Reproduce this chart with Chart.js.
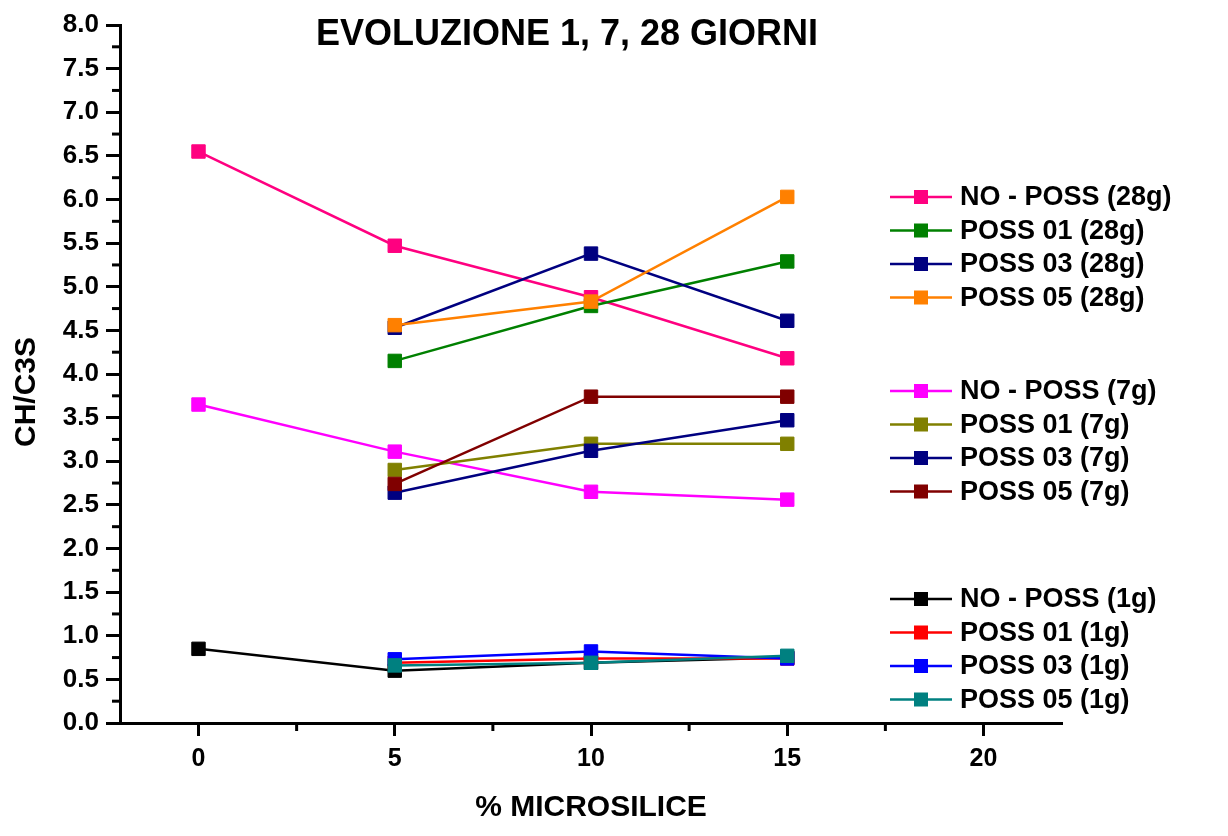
<!DOCTYPE html>
<html>
<head>
<meta charset="utf-8">
<title>Evoluzione 1, 7, 28 giorni</title>
<script src="https://cdn.jsdelivr.net/npm/chart.js@4.4.1/dist/chart.umd.min.js"></script>
<style>
  html, body { margin: 0; padding: 0; background: #fff; }
  #wrap { width: 1228px; height: 836px; }
</style>
</head>
<body>
<div id="wrap"><canvas id="evoChart" width="1228" height="836"></canvas></div>
<script>
// CH/C3S vs % microsilice, curing at 1, 7 and 28 days
const chartTitle = 'EVOLUZIONE 1, 7, 28 GIORNI';
const xTitle = '% MICROSILICE';
const yTitle = 'CH/C3S';

const xNoPoss = [0, 5, 10, 15];
const xPoss = [5, 10, 15];

const xTickValues = [0, 5, 10, 15, 20];
const xTickLabels = ['0', '5', '10', '15', '20'];
const yTickValues = [0, 0.5, 1, 1.5, 2, 2.5, 3, 3.5, 4, 4.5, 5, 5.5, 6, 6.5, 7, 7.5, 8];
const yTickLabels = ['0.0', '0.5', '1.0', '1.5', '2.0', '2.5', '3.0', '3.5', '4.0', '4.5',
                     '5.0', '5.5', '6.0', '6.5', '7.0', '7.5', '8.0'];

// 28 giorni
const noPoss28 = [6.55, 5.47, 4.88, 4.18];
const poss01_28 = [4.15, 4.78, 5.29];
const poss03_28 = [4.53, 5.38, 4.61];
const poss05_28 = [4.56, 4.83, 6.03];
// 7 giorni
const noPoss7 = [3.65, 3.11, 2.65, 2.56];
const poss01_7 = [2.90, 3.20, 3.20];
const poss03_7 = [2.64, 3.12, 3.47];
const poss05_7 = [2.74, 3.74, 3.74];
// 1 giorno
const noPoss1 = [0.85, 0.60, 0.69, 0.75];
const poss01_1 = [0.69, 0.74, 0.74];
const poss03_1 = [0.73, 0.82, 0.74];
const poss05_1 = [0.66, 0.69, 0.77];

const FONT = '"Liberation Sans", Arial, Helvetica, sans-serif';
Chart.defaults.font.family = FONT;
Chart.defaults.color = '#000';

function series(label, xs, ys, color, i) {
    return {
        label: label,
        data: xs.map((x, k) => ({ x: x, y: ys[k] })),
        borderColor: color,
        backgroundColor: color,
        pointBackgroundColor: color,
        pointBorderColor: color,
        borderWidth: 2.5,
        pointStyle: 'rect',
        pointRadius: 9.5,
        pointBorderWidth: 1,
        tension: 0,
        order: 20 - i   // later series on top, like the original plot
    };
}

const datasets = [
    series('NO - POSS (28g)', xNoPoss, noPoss28, '#FF0080', 0),
    series('POSS 01 (28g)', xPoss, poss01_28, '#008000', 1),
    series('POSS 03 (28g)', xPoss, poss03_28, '#000080', 2),
    series('POSS 05 (28g)', xPoss, poss05_28, '#FF8000', 3),
    series('NO - POSS (7g)', xNoPoss, noPoss7, '#FF00FF', 4),
    series('POSS 01 (7g)', xPoss, poss01_7, '#808000', 5),
    series('POSS 03 (7g)', xPoss, poss03_7, '#000080', 6),
    series('POSS 05 (7g)', xPoss, poss05_7, '#800000', 7),
    series('NO - POSS (1g)', xNoPoss, noPoss1, '#000000', 8),
    series('POSS 01 (1g)', xPoss, poss01_1, '#FF0000', 9),
    series('POSS 03 (1g)', xPoss, poss03_1, '#0000FF', 10),
    series('POSS 05 (1g)', xPoss, poss05_1, '#008080', 11)
];

// legend is split in three blocks (28g / 7g / 1g), drawn by hand
const legendGroups = [[0, 1, 2, 3], [4, 5, 6, 7], [8, 9, 10, 11]];
const legendTops = [197, 391, 599];

function midpoints(arr, lo, hi) {
    const out = [];
    const step = arr[1] - arr[0];
    for (let v = arr[0] - step / 2; v <= hi; v += step) {
        if (v >= lo) out.push(v);
    }
    return out;
}

const decorPlugin = {
    id: 'decor',
    afterDraw(chart) {
        const ctx = chart.ctx;
        const xs = chart.scales.x, ys = chart.scales.y;
        const area = chart.chartArea;
        ctx.save();

        // minor ticks
        ctx.strokeStyle = '#000';
        ctx.lineWidth = 3;
        midpoints(xTickValues, xs.min, xs.max).forEach(v => {
            const px = xs.getPixelForValue(v);
            ctx.beginPath();
            ctx.moveTo(px, area.bottom);
            ctx.lineTo(px, area.bottom + 8);
            ctx.stroke();
        });
        midpoints(yTickValues, ys.min, ys.max).forEach(v => {
            const py = ys.getPixelForValue(v);
            ctx.beginPath();
            ctx.moveTo(area.left, py);
            ctx.lineTo(area.left - 8, py);
            ctx.stroke();
        });

        // title
        ctx.fillStyle = '#000';
        ctx.textAlign = 'center';
        ctx.textBaseline = 'middle';
        ctx.font = 'bold 36px ' + FONT;
        ctx.fillText(chartTitle, 567, 35);

        // y axis title
        ctx.save();
        ctx.translate(27, 392);
        ctx.rotate(-Math.PI / 2);
        ctx.font = 'bold 30px ' + FONT;
        ctx.fillText(yTitle, 0, 0);
        ctx.restore();

        // legend
        ctx.font = 'bold 27px ' + FONT;
        ctx.textAlign = 'left';
        legendGroups.forEach((grp, g) => {
            grp.forEach((idx, r) => {
                const ds = chart.data.datasets[idx];
                const cy = legendTops[g] + r * 33.5;
                ctx.strokeStyle = ds.borderColor;
                ctx.lineWidth = 2.5;
                ctx.beginPath();
                ctx.moveTo(890, cy);
                ctx.lineTo(952, cy);
                ctx.stroke();
                ctx.fillStyle = ds.borderColor;
                ctx.fillRect(914, cy - 7, 14, 14);
                ctx.fillStyle = '#000';
                ctx.fillText(ds.label, 960, cy + 1);
            });
        });
        ctx.restore();
    }
};

new Chart(document.getElementById('evoChart'), {
    type: 'line',
    data: { datasets: datasets },
    options: {
        responsive: false,
        animation: false,
        layout: { padding: { top: 25, right: 166, left: 0, bottom: 0 } },
        plugins: {
            legend: { display: false },
            title: { display: false },
            tooltip: { enabled: false }
        },
        scales: {
            x: {
                type: 'linear',
                min: -2,
                max: 22,
                afterBuildTicks: s => { s.ticks = xTickValues.map(v => ({ value: v })); },
                afterFit: s => { s.height = 113; },
                ticks: {
                    callback: (v) => xTickLabels[xTickValues.indexOf(v)],
                    font: { size: 25, weight: 'bold' },
                    padding: 8,
                    maxRotation: 0
                },
                grid: {
                    drawOnChartArea: false,
                    drawTicks: true,
                    tickLength: 13,
                    tickWidth: 3,
                    tickColor: '#000'
                },
                border: { display: true, color: '#000', width: 3 },
                title: {
                    display: true,
                    text: xTitle,
                    font: { size: 30, weight: 'bold' },
                    padding: { top: 0, bottom: 10 }
                }
            },
            y: {
                min: 0,
                max: 8,
                afterBuildTicks: s => { s.ticks = yTickValues.map(v => ({ value: v })); },
                afterFit: s => { s.width = 120; },
                ticks: {
                    callback: (v) => yTickLabels[yTickValues.indexOf(v)],
                    font: { size: 26, weight: 'bold' },
                    padding: 7
                },
                grid: {
                    drawOnChartArea: false,
                    drawTicks: true,
                    tickLength: 14,
                    tickWidth: 3,
                    tickColor: '#000'
                },
                border: { display: true, color: '#000', width: 3 }
            }
        }
    },
    plugins: [decorPlugin]
});
</script>
</body>
</html>
